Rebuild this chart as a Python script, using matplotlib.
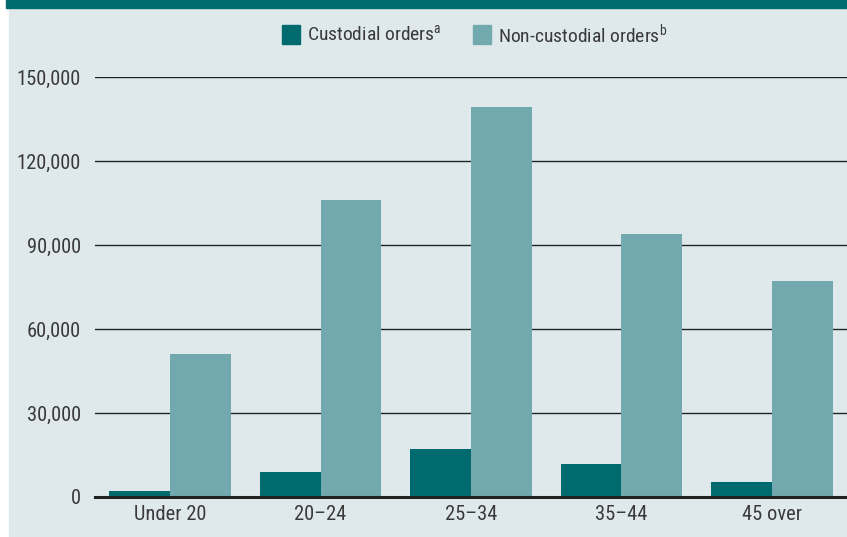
import matplotlib.pyplot as plt
import numpy as np
from matplotlib.patches import Rectangle
from matplotlib import font_manager

names = {f.name for f in font_manager.fontManager.ttflist}
cands = ['Liberation Sans Narrow', 'DejaVu Sans Condensed', 'Roboto Condensed', 'Liberation Sans']
plt.rcParams['font.family'] = [c for c in cands if c in names] + ['DejaVu Sans']

groups = ['Under 20', '20–24', '25–34', '35–44', '45 over']
custodial = [2100, 8900, 17100, 11800, 5400]
non_custodial = [51000, 106000, 139300, 93900, 77100]
yticks = [0, 30000, 60000, 90000, 120000, 150000]

dark = '#006b6e'
light = '#72a9ae'
bg = '#dfe9ec'

fig = plt.figure(figsize=(8.47, 5.37), dpi=100)
# panel background and the band on top
fig.patches.append(Rectangle((9/847, 0), 1, 1, transform=fig.transFigure, color=bg, zorder=-2))
fig.patches.append(Rectangle((6/847, 1 - 8/537), 1, 8/537, transform=fig.transFigure, color=dark, zorder=-1))

ax = fig.add_axes([95/847, 1 - 497/537, (847 - 95)/847, (497 - 77)/537])
ax.set_facecolor('none')

x = np.arange(len(groups))
w = 0.404
ax.bar(x - w/2, custodial, w, color=dark, zorder=3)
ax.bar(x + w/2, non_custodial, w, color=light, zorder=3)

ax.set_xlim(-0.5, 4.5)
ax.set_ylim(0, 150000)
ax.set_yticks(yticks)
ax.set_yticklabels([f'{v:,}' for v in yticks])
ax.set_xticks(x)
ax.set_xticklabels(groups)
for v in yticks[1:]:
    ax.axhline(v, color='#222222', lw=1.0, zorder=1)
ax.axhline(0, color='#222222', lw=2.2, zorder=4, clip_on=False)

for s in ax.spines.values():
    s.set_visible(False)
ax.tick_params(length=0, labelsize=14.8, colors='#3a3a3a')
ax.tick_params(axis='y', pad=10)
ax.tick_params(axis='x', pad=6)

# legend
fig.patches.append(Rectangle((282/847, 1 - 44/537), 18/847, 19/537, transform=fig.transFigure, color=dark))
fig.text(307/847, 1 - 35/537, 'Custodial orders$^{\\mathregular{a}}$', fontsize=14, color='#3a3a3a', va='center')
fig.patches.append(Rectangle((473/847, 1 - 44/537), 18/847, 19/537, transform=fig.transFigure, color=light))
fig.text(498/847, 1 - 35/537, 'Non-custodial orders$^{\\mathregular{b}}$', fontsize=14, color='#3a3a3a', va='center')

fig.savefig('out.png', dpi=100, facecolor='white')
